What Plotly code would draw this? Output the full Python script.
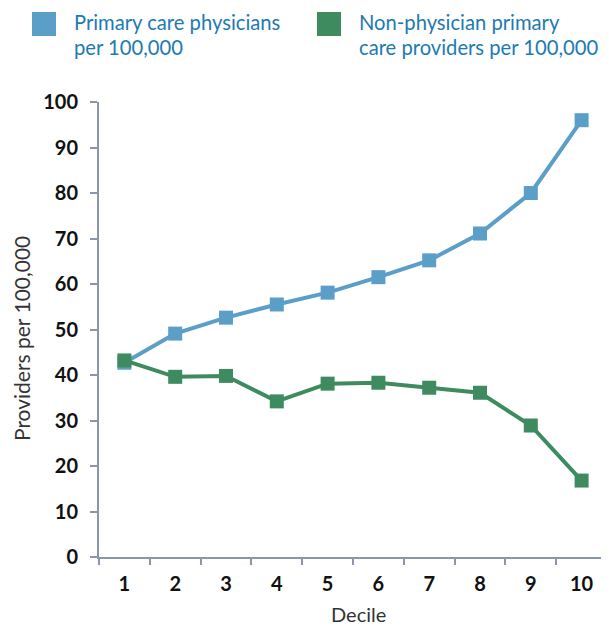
import plotly.graph_objects as go

deciles = ["1", "2", "3", "4", "5", "6", "7", "8", "9", "10"]
physicians = [42.7, 49.1, 52.6, 55.5, 58.1, 61.5, 65.2, 71.1, 80.0, 96.0]
non_physicians = [43.2, 39.6, 39.8, 34.2, 38.1, 38.3, 37.2, 36.1, 28.9, 16.8]
legend_lines = [["Primary care physicians", "per 100,000"],
                ["Non-physician primary", "care providers per 100,000"]]
y_ticks = [0, 10, 20, 30, 40, 50, 60, 70, 80, 90, 100]

BLUE = "#5b9ec7"
GREEN = "#3f8b60"
AXIS = "#8a96ab"
LEG_TXT = "#1d7ab3"
FONT = "Lato, Open Sans, sans-serif"

# page offset compensation (body margin): figure px = reference px - 8
OFF = 8
L, R, T, B = 99 - OFF, 607 - OFF, 102 - OFF, 557 - OFF
W, H = 609, 626
PW, PH = R - L, B - T


def px(x):
    return (x - OFF - L) / PW


def py(y):
    return (B - (y - OFF)) / PH


fig = go.Figure()
for vals, col, lines in [(physicians, BLUE, legend_lines[0]), (non_physicians, GREEN, legend_lines[1])]:
    fig.add_trace(go.Scatter(
        x=deciles, y=vals, mode="lines+markers", name=" ".join(lines),
        line=dict(color=col, width=4),
        marker=dict(symbol="square", size=14, color=col),
        showlegend=False,
    ))

# custom legend
for (sx, tx), col, lines in zip([(32, 72), (317, 357)], [BLUE, GREEN], legend_lines):
    fig.add_shape(type="rect", xref="paper", yref="paper",
                  x0=px(sx), x1=px(sx + 24), y0=py(36), y1=py(12),
                  fillcolor=col, line=dict(width=0))
    for ly, txt in zip([22, 47], lines):
        fig.add_annotation(xref="paper", yref="paper", x=px(tx), y=py(ly),
                           xanchor="left", yanchor="middle", align="left",
                           text=txt, showarrow=False,
                           font=dict(family=FONT, size=20.2, color=LEG_TXT))

# axis titles
fig.add_annotation(xref="paper", yref="paper", x=px(358), y=py(614),
                   xanchor="center", yanchor="middle", text="Decile", showarrow=False,
                   font=dict(family=FONT, size=20, color="#333"))
fig.add_annotation(xref="paper", yref="paper", x=px(21), y=py(339),
                   xanchor="center", yanchor="middle", text="Providers per 100,000",
                   textangle=-90, showarrow=False,
                   font=dict(family=FONT, size=21, color="#333"))

fig.update_layout(
    width=W, height=H,
    margin=dict(l=L, r=W - R, t=T, b=H - B, autoexpand=False),
    paper_bgcolor="white", plot_bgcolor="white",
    font=dict(family=FONT),
    xaxis=dict(
        type="category", range=[-0.5, 9.5], tickson="boundaries",
        ticks="outside", ticklen=6, tickcolor=AXIS, tickwidth=2,
        showline=True, linecolor=AXIS, linewidth=2, showgrid=False,
        tickfont=dict(family=FONT, size=20, color="#111", weight="bold"),
        ticklabelstandoff=8, automargin=False,
    ),
    yaxis=dict(
        range=[0, 100], tickvals=y_ticks,
        ticks="outside", ticklen=7, tickcolor=AXIS, tickwidth=2,
        showline=True, linecolor=AXIS, linewidth=2, showgrid=False, zeroline=False,
        tickfont=dict(family=FONT, size=20, color="#111", weight="bold"),
        ticklabelstandoff=8, automargin=False,
    ),
)

fig.write_html("out.html")
